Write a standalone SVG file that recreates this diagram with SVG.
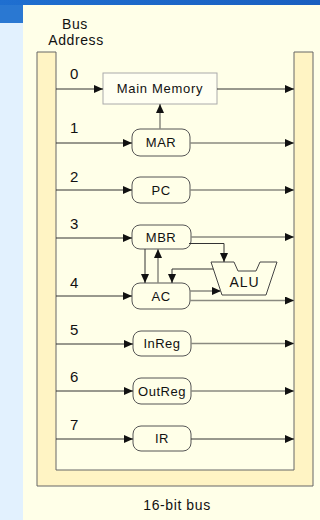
<svg xmlns="http://www.w3.org/2000/svg" width="320" height="520" viewBox="0 0 320 520">
<defs>
<marker id="ah" markerUnits="userSpaceOnUse" markerWidth="9" markerHeight="8" refX="9" refY="4" orient="auto"><path d="M0,0 L9,4 L0,8 z" fill="#111"/></marker>
<linearGradient id="topbar" x1="0" y1="0" x2="1" y2="0"><stop offset="0" stop-color="#1f6fd0"/><stop offset="1" stop-color="#1a5fc0"/></linearGradient>
</defs>
<style>
text{font-family:"Liberation Sans",Arial,sans-serif;fill:#111}
.lbl{font-size:14px;letter-spacing:0.6px;text-anchor:middle}
.num{font-size:15px}
.reg{fill:#FFFFE8;stroke:#555;stroke-width:1}
.rt{font-size:13px;letter-spacing:0.5px;text-anchor:middle}
.in{stroke:#333;stroke-width:1;fill:none;marker-end:url(#ah)}
.out{stroke:#8a8a80;stroke-width:1.5;fill:none;marker-end:url(#ah)}
.ln{stroke:#333;stroke-width:1;fill:none}
</style>
<rect x="0" y="0" width="320" height="520" fill="#E2F1FE"/>
<rect x="0" y="0" width="23" height="23" fill="#2a78d2"/>
<rect x="0" y="0" width="320" height="5" fill="url(#topbar)"/>
<rect x="23" y="5" width="297" height="515" fill="#FFFFE8"/>
<g id="bus">
<path d="M37,52 L37,486 L313,486 L313,52 L294,52 L294,470 L56,470 L56,52 Z" fill="#FFF4C4" stroke="#666" stroke-width="1"/>
<text class="lbl" x="75" y="29">Bus</text>
<text class="lbl" x="76" y="45">Address</text>
<text class="lbl" x="177" y="510">16-bit bus</text>
</g>
<g id="labels">
<text class="num" x="70" y="79">0</text>
<text class="num" x="70" y="133">1</text>
<text class="num" x="70" y="182">2</text>
<text class="num" x="70" y="229">3</text>
<text class="num" x="70" y="288">4</text>
<text class="num" x="70" y="335">5</text>
<text class="num" x="70" y="382">6</text>
<text class="num" x="70" y="430">7</text>
</g>
<g id="main-memory">
<rect x="103" y="73" width="114" height="31" fill="#FFFFF2" stroke="#aaa" stroke-width="1"/>
<text x="160" y="93" style="font-size:13px;letter-spacing:0.7px;text-anchor:middle">Main Memory</text>
</g>
<g id="mar"><rect class="reg" x="132" y="129" width="58" height="27" rx="8"/><text class="rt" x="161" y="147">MAR</text></g>
<g id="pc"><rect class="reg" x="132" y="177" width="58" height="26" rx="8"/><text class="rt" x="161" y="194.5">PC</text></g>
<g id="mbr"><rect class="reg" x="132" y="225" width="59" height="24" rx="8"/><text class="rt" x="161" y="241.5">MBR</text></g>
<g id="ac"><rect class="reg" x="132" y="283" width="58" height="26" rx="8"/><text class="rt" x="161" y="300.5">AC</text></g>
<g id="inreg"><rect class="reg" x="133" y="331" width="58" height="25" rx="8"/><text class="rt" x="162" y="348">InReg</text></g>
<g id="outreg"><rect class="reg" x="133" y="378" width="58" height="26" rx="8"/><text class="rt" x="162" y="395.5">OutReg</text></g>
<g id="ir"><rect class="reg" x="133" y="426" width="58" height="25" rx="8"/><text class="rt" x="162" y="443">IR</text></g>
<g id="alu">
<path d="M211,262 L234,262 L238,271 L256,271 L260,262 L277,262 L266,295 L222,295 Z" fill="#FFFFE8" stroke="#444" stroke-width="1"/>
<text x="244.5" y="287" style="font-size:14px;letter-spacing:1px;text-anchor:middle">ALU</text>
</g>
<g id="connectors">
<line class="in" x1="56" y1="89" x2="103" y2="89"/>
<line class="in" x1="217" y1="89" x2="294" y2="89"/>
<line class="in" x1="56" y1="143" x2="132" y2="143"/>
<line class="out" x1="190" y1="143" x2="294" y2="143"/>
<line class="out" x1="160" y1="129" x2="160" y2="104"/>
<line class="in" x1="56" y1="190" x2="132" y2="190"/>
<line class="out" x1="190" y1="190" x2="294" y2="190"/>
<line class="in" x1="56" y1="238" x2="132" y2="238"/>
<line class="out" x1="191" y1="237" x2="294" y2="237"/>
<path class="in" d="M189,243.5 L224,243.5 L224,262"/>
<line class="in" x1="145" y1="249" x2="145" y2="283"/>
<line class="out" x1="158" y1="283" x2="158" y2="249"/>
<path class="in" d="M213,269 L172,269 L172,283"/>
<line class="out" x1="190" y1="291" x2="221" y2="291"/>
<line class="in" x1="56" y1="296" x2="132" y2="296"/>
<line class="out" x1="190" y1="300.5" x2="294" y2="300.5"/>
<line class="in" x1="56" y1="344" x2="133" y2="344"/>
<line class="out" x1="191" y1="343.5" x2="294" y2="343.5"/>
<line class="in" x1="56" y1="391" x2="133" y2="391"/>
<line class="out" x1="191" y1="391" x2="294" y2="391"/>
<line class="in" x1="56" y1="439" x2="133" y2="439"/>
<line class="in" x1="191" y1="439" x2="294" y2="439"/>
</g>
</svg>
